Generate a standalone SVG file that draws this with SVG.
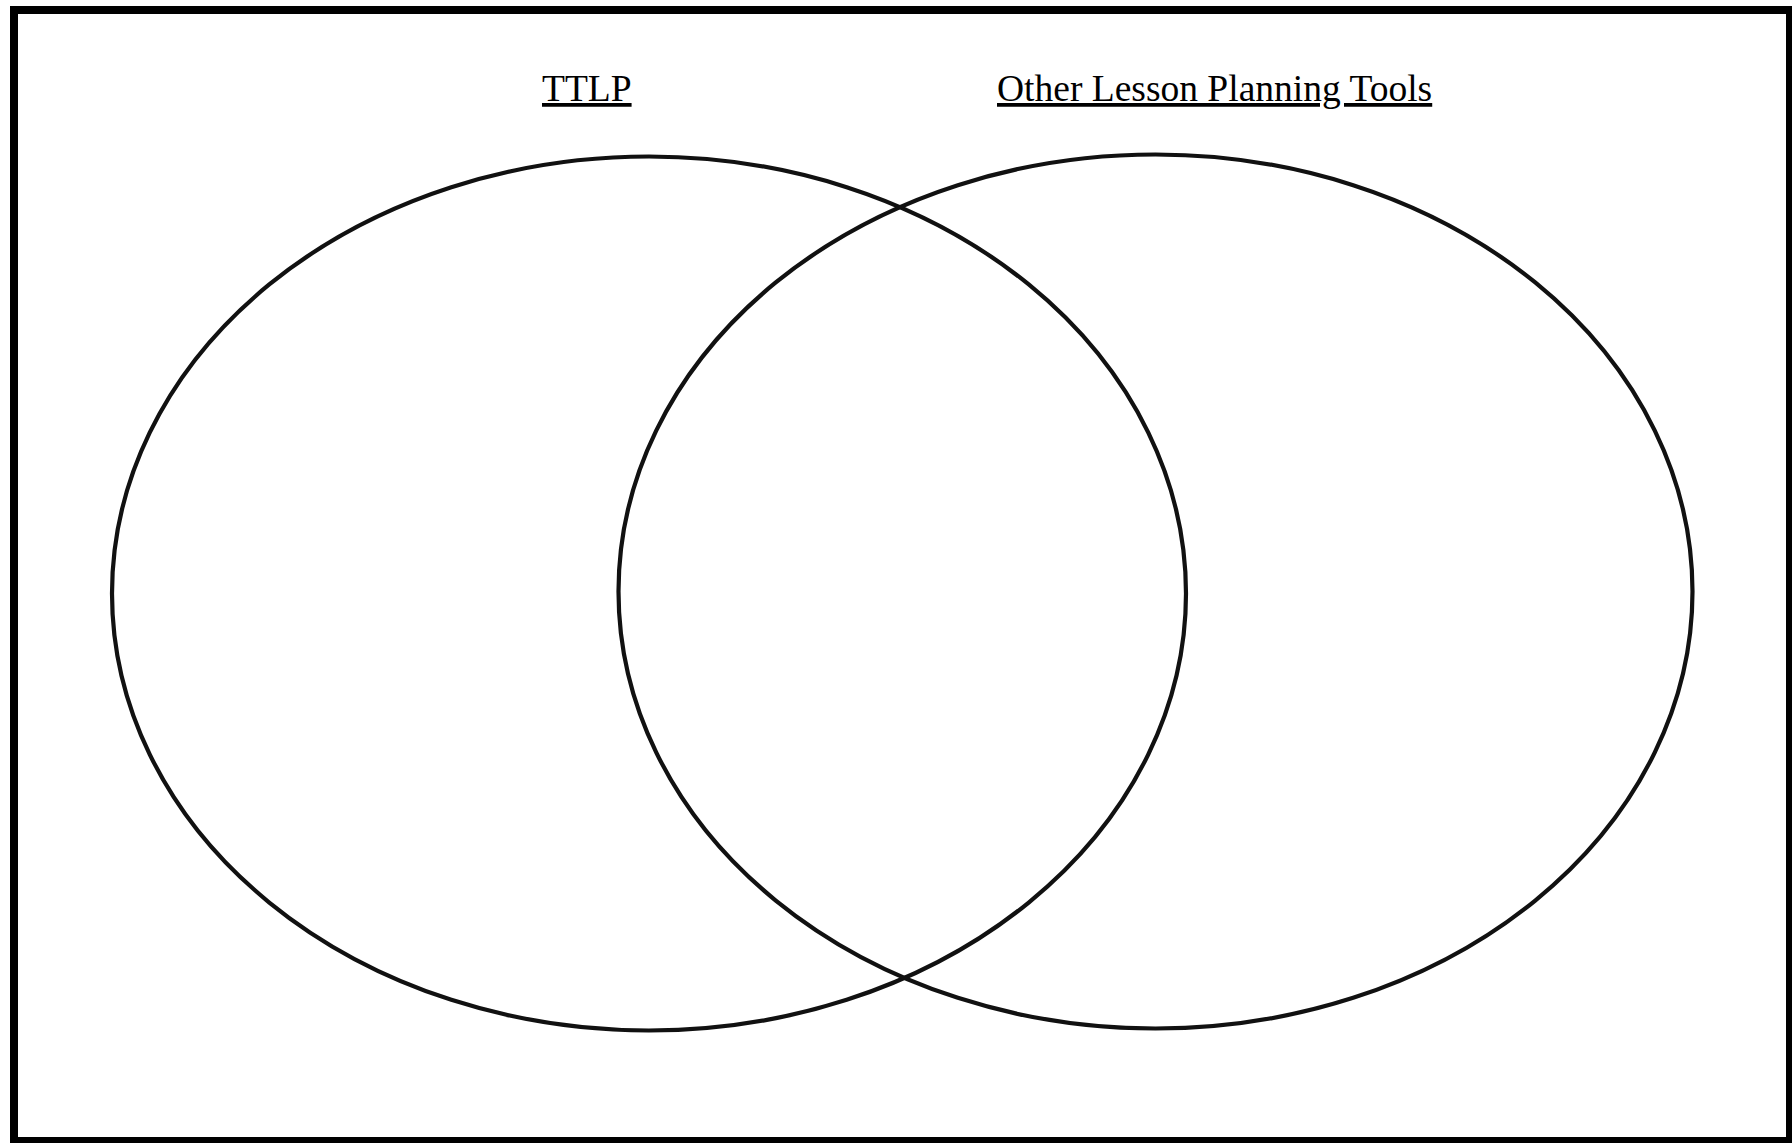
<svg xmlns="http://www.w3.org/2000/svg" width="1792" height="1143" viewBox="0 0 1792 1143">
<style>
.ring{fill:none;stroke:#111;stroke-width:4.2}
.lbl{font-family:"Liberation Serif","Times New Roman",serif;font-size:37.5px;fill:#000;text-decoration:underline}
</style>
<rect x="0" y="0" width="1792" height="1143" fill="#fff"/>
<rect id="frame" x="14" y="10" width="1776" height="1131" fill="none" stroke="#000" stroke-width="8"/>
<g id="ttlp">
<ellipse class="ring" cx="649" cy="593.5" rx="537" ry="437"/>
<text class="lbl" x="542" y="101">TTLP</text>
</g>
<g id="other-tools">
<ellipse class="ring" cx="1155.5" cy="591.5" rx="537" ry="437"/>
<text class="lbl" x="997" y="101">Other Lesson Planning Tools</text>
</g>
<g id="connectors"></g>
</svg>
